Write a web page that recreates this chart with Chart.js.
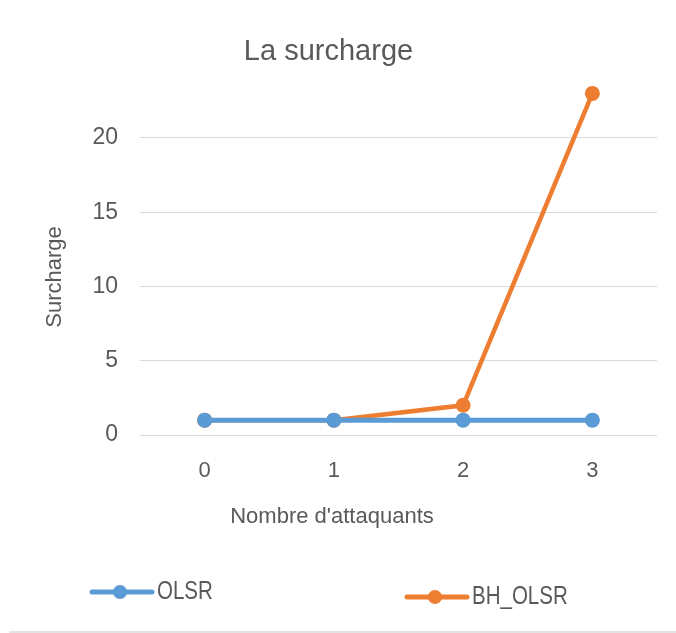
<!DOCTYPE html>
<html>
<head>
<meta charset="utf-8">
<script src="https://cdn.jsdelivr.net/npm/chart.js@4"></script>
<style>
  html, body { margin: 0; padding: 0; background: #fff; }
  #wrap { position: relative; width: 676px; height: 633px; }
</style>
</head>
<body>
<div id="wrap"><canvas id="graphique" width="676" height="633"></canvas></div>
<script>
// donnees du graphique
const attaquants = ['0', '1', '2', '3'];
const olsr = [1, 1, 1, 1];
const bhOlsr = [1, 1, 2, 23];
const yTicks = [0, 5, 10, 15, 20];

const bleu = '#5b9bd5';
const orange = '#ed7d31';
const gris = '#595959';
const police = '"Liberation Sans", Arial, sans-serif';

// titres des axes + legende dessines a la main (positions comme dans Excel)
const habillage = {
  id: 'habillage',
  afterDraw(chart) {
    const ctx = chart.ctx;
    ctx.save();
    ctx.fillStyle = gris;
    ctx.textAlign = 'center';
    ctx.textBaseline = 'middle';
    ctx.font = '22px ' + police;
    ctx.fillText("Nombre d'attaquants", 332, 517);
    ctx.save();
    ctx.translate(55, 277);
    ctx.rotate(-Math.PI / 2);
    ctx.fillText('Surcharge', 0, 0);
    ctx.restore();

    const pos = [{ x: 92, y: 592 }, { x: 407, y: 597 }];
    chart.data.datasets.forEach((ds, i) => {
      const p = pos[i];
      ctx.strokeStyle = ds.borderColor;
      ctx.lineWidth = 5;
      ctx.lineCap = 'round';
      ctx.beginPath();
      ctx.moveTo(p.x, p.y);
      ctx.lineTo(p.x + 60, p.y);
      ctx.stroke();
      ctx.fillStyle = ds.borderColor;
      ctx.beginPath();
      ctx.arc(p.x + 28, p.y, 7, 0, Math.PI * 2);
      ctx.fill();
      // texte un peu condense comme la police d'Excel
      ctx.save();
      ctx.translate(p.x + 65, p.y);
      ctx.scale(0.82, 1);
      ctx.fillStyle = gris;
      ctx.font = '25px ' + police;
      ctx.textAlign = 'left';
      ctx.fillText(ds.label, 0, 0);
      ctx.restore();
    });
    // trait gris en bas
    ctx.strokeStyle = '#e3e3e3';
    ctx.lineWidth = 2;
    ctx.beginPath();
    ctx.moveTo(10, 632);
    ctx.lineTo(676, 632);
    ctx.stroke();
    ctx.restore();
  }
};

new Chart(document.getElementById('graphique'), {
  type: 'line',
  data: {
    labels: attaquants,
    datasets: [
      {
        label: 'OLSR',
        data: olsr,
        borderColor: bleu,
        backgroundColor: bleu,
        borderWidth: 5,
        pointRadius: 7.5,
        pointBorderWidth: 0
      },
      {
        label: 'BH_OLSR',
        data: bhOlsr,
        borderColor: orange,
        backgroundColor: orange,
        borderWidth: 4.5,
        pointRadius: 7.5,
        pointBorderWidth: 0
      }
    ]
  },
  options: {
    responsive: false,
    animation: false,
    layout: { padding: { left: 0, right: 19, top: 0, bottom: 98 } },
    plugins: {
      legend: { display: false },
      tooltip: { enabled: false },
      title: {
        display: true,
        text: 'La surcharge',
        color: gris,
        font: { family: police, size: 29, weight: 'normal', lineHeight: 0.78 },
        padding: { top: 41.1, bottom: 0 }
      }
    },
    scales: {
      x: {
        offset: true,
        grid: { display: false, drawTicks: false },
        border: { display: false },
        ticks: {
          color: gris,
          padding: 23,
          font: { family: police, size: 22 }
        },
        afterFit(scale) { scale.height = 100; }
      },
      y: {
        min: 0,
        max: 25,
        afterBuildTicks(scale) { scale.ticks = yTicks.map(v => ({ value: v })); },
        grid: { color: '#d9d9d9', lineWidth: 1, drawTicks: false },
        border: { display: false },
        ticks: {
          color: gris,
          padding: 22,
          font: { family: police, size: 23 }
        },
        afterFit(scale) { scale.width = 140; }
      }
    }
  },
  plugins: [habillage]
});
</script>
</body>
</html>
